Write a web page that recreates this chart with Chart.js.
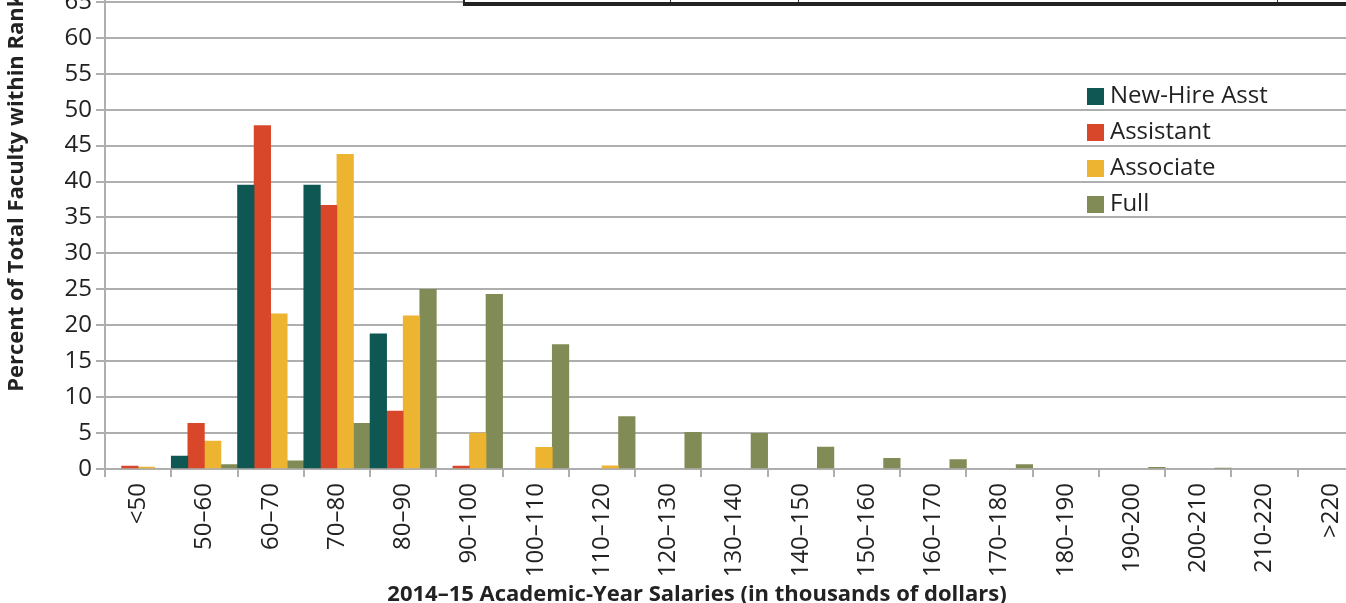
<!DOCTYPE html>
<html lang="en">
<head>
    <meta charset="UTF-8">
    <title>Faculty Salaries by Rank</title>
    <style>
        html, body { margin: 0; padding: 0; background: #fff; overflow: hidden; width: 1346px; height: 603px; }
        #wrap { position: absolute; left: 0; top: -102px; width: 1394px; height: 712px; }
        #topTable {
            position: absolute; left: 463px; top: -30px; width: 900px; height: 32px;
            background: #fff; border-left: 2px solid #222; border-bottom: 4px solid #222;
        }
        #topTable span { position: absolute; top: 0; bottom: 0; width: 1px; background: #333; }
    </style>
</head>
<body>
    <div id="wrap"><canvas id="salaryChart"></canvas></div>
    <div id="topTable">
        <span style="left:205px"></span>
        <span style="left:333px"></span>
        <span style="left:812px"></span>
    </div>

    <script src="https://cdn.jsdelivr.net/npm/chart.js"></script>
    <script>
        // salary bands (thousands of dollars)
        const bands = ['<50', '50–60', '60–70', '70–80', '80–90', '90–100', '100–110', '110–120',
            '120–130', '130–140', '140–150', '150–160', '160–170', '170–180', '180–190',
            '190-200', '200-210', '210-220', '>220'];

        // percent of total faculty within rank
        const newHireAsst = [0, 1.8, 39.5, 39.5, 18.8, 0, 0, 0, 0, 0, 0, 0, 0, 0, 0, 0, 0, 0, 0];
        const assistant   = [0.4, 6.35, 47.8, 36.7, 8.05, 0.4, 0, 0, 0, 0, 0, 0, 0, 0, 0, 0, 0, 0, 0];
        const associate   = [0.25, 3.9, 21.6, 43.8, 21.3, 5.0, 3.0, 0.45, 0, 0, 0, 0, 0, 0, 0, 0, 0, 0, 0];
        const full        = [0, 0.6, 1.15, 6.35, 25.0, 24.3, 17.3, 7.3, 5.1, 4.95, 3.05, 1.5, 1.3, 0.6, 0, 0.23, 0.1, 0, 0];

        const rankNames = ['New-Hire Asst', 'Assistant', 'Associate', 'Full'];
        const rankColors = ['#0f5753', '#d9472b', '#edb432', '#808b55'];
        const rankValues = [newHireAsst, assistant, associate, full];

        const xTitle = '2014–15 Academic-Year Salaries (in thousands of dollars)';
        const gridColor = '#aeaeae';

        // legend inside the plot (top right) and the x title centred on the page
        const extras = {
            id: 'extras',
            afterDraw(chart) {
                const ctx = chart.ctx;
                const area = chart.chartArea;
                ctx.save();
                ctx.font = '24px "Open Sans"';
                ctx.textBaseline = 'middle';
                chart.data.datasets.forEach((ds, i) => {
                    const y = area.bottom - 373 + i * 36;
                    const x = area.right - 277;
                    ctx.fillStyle = ds.backgroundColor;
                    ctx.fillRect(x, y - 8, 17, 17);
                    ctx.fillStyle = '#222';
                    ctx.fillText(ds.label, x + 23, y);
                });

                ctx.font = 'bold 22px "Open Sans"';
                ctx.textAlign = 'center';
                ctx.fillText(xTitle, chart.width / 2, area.bottom + 126);
                ctx.restore();
            }
        };

        const ctx = document.getElementById('salaryChart').getContext('2d');
        new Chart(ctx, {
            type: 'bar',
            data: {
                labels: bands,
                datasets: rankNames.map((name, i) => ({
                    label: name,
                    // empty bins are left out so no sliver shows on the baseline
                    data: rankValues[i].map(v => (v === 0 ? null : v)),
                    backgroundColor: rankColors[i],
                    borderWidth: 0,
                    categoryPercentage: 1,
                    barPercentage: 1
                }))
            },
            options: {
                responsive: true,
                maintainAspectRatio: false,
                animation: false,
                layout: { padding: { top: 0, right: 30, left: 0, bottom: 0 } },
                plugins: {
                    legend: { display: false },
                    tooltip: { enabled: false }
                },
                scales: {
                    x: {
                        afterFit(scale) { scale.height = 141; },
                        grid: {
                            offset: true,
                            drawOnChartArea: false,
                            drawTicks: true,
                            tickLength: 8,
                            color: gridColor,
                            lineWidth: 2
                        },
                        border: { display: false },
                        ticks: {
                            minRotation: 90,
                            maxRotation: 90,
                            autoSkip: false,
                            padding: 6,
                            color: '#222',
                            font: { family: 'Open Sans', size: 24 }
                        }
                    },
                    y: {
                        min: 0,
                        max: 76.9,
                        afterFit(scale) { scale.width = 105; },
                        grid: {
                            color: gridColor,
                            lineWidth: 2,
                            tickLength: 9
                        },
                        border: { color: gridColor, width: 2 },
                        ticks: {
                            stepSize: 5,
                            padding: 4,
                            color: '#222',
                            font: { family: 'Open Sans', size: 24 }
                        },
                        title: {
                            display: true,
                            text: 'Percent of Total Faculty within Rank',
                            color: '#222',
                            font: { family: 'Open Sans', size: 22, weight: 'bold' },
                            padding: { top: 4, bottom: 0 }
                        }
                    }
                }
            },
            plugins: [extras]
        });
    </script>
</body>
</html>
